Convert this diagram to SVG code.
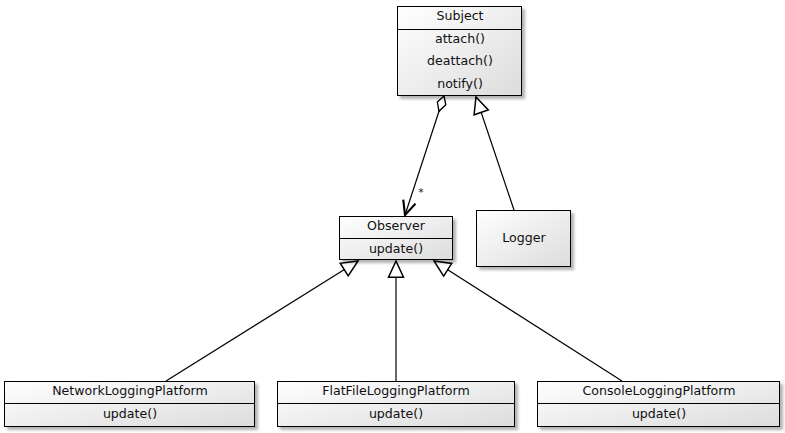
<svg xmlns="http://www.w3.org/2000/svg" width="785" height="433" viewBox="0 0 785 433">
<style>
.box{fill:url(#g);stroke:#000;stroke-width:1;filter:url(#sh)}
.div{stroke:#000;stroke-width:1}
text{font-family:"DejaVu Sans",sans-serif;font-size:12.6px;fill:#111;text-anchor:middle}
.ln{stroke:#000;stroke-width:1.2;fill:none}
</style>
<defs>
<linearGradient id="g" x1="0" y1="0" x2="1" y2="1">
<stop offset="0" stop-color="#ffffff"/>
<stop offset="1" stop-color="#dcdcdc"/>
</linearGradient>
<filter id="sh" x="-10%" y="-10%" width="130%" height="140%">
<feDropShadow dx="3" dy="3" stdDeviation="1.5" flood-color="#000" flood-opacity="0.3"/>
</filter>
<marker id="tri" markerUnits="userSpaceOnUse" markerWidth="20" markerHeight="20" refX="0" refY="0" viewBox="-1 -8 16 16" orient="auto">
<path d="M0,0 L13,-6 L13,6 Z" fill="#fff" stroke="#000" stroke-width="1.2"/>
</marker>
<marker id="dia" markerUnits="userSpaceOnUse" markerWidth="20" markerHeight="20" refX="0" refY="0" viewBox="-1 -8 18 16" orient="auto">
<path d="M0,0 L7,-4 L14.5,0 L7,4 Z" fill="#fff" stroke="#000" stroke-width="1.2"/>
</marker>
<marker id="open" markerUnits="userSpaceOnUse" markerWidth="20" markerHeight="20" refX="0" refY="0" viewBox="-15 -8 17 16" orient="auto">
<path d="M-12,-5.5 L0,0 L-12,5.5" fill="none" stroke="#000" stroke-width="1.8"/>
</marker>
</defs>

<g id="connectors">
<path class="ln" d="M444,96 L405,215" marker-start="url(#dia)" marker-end="url(#open)"/>
<text x="421" y="196" style="font-size:10px">*</text>
<path class="ln" d="M476,97 L514,210" marker-start="url(#tri)"/>
<path class="ln" d="M358,261 L166,381" marker-start="url(#tri)"/>
<path class="ln" d="M396,261 L396,381" marker-start="url(#tri)"/>
<path class="ln" d="M434,261 L622,381" marker-start="url(#tri)"/>
</g>

<g id="subject">
<rect class="box" x="397.5" y="6.5" width="124" height="89"/>
<line class="div" x1="397.5" y1="29.5" x2="521.5" y2="29.5"/>
<text x="460" y="20">Subject</text>
<text x="460" y="43">attach()</text>
<text x="460" y="65">deattach()</text>
<text x="460" y="88">notify()</text>
</g>

<g id="observer">
<rect class="box" x="339.5" y="216.5" width="113" height="43"/>
<line class="div" x1="339.5" y1="238.5" x2="452.5" y2="238.5"/>
<text x="396" y="230">Observer</text>
<text x="396" y="253">update()</text>
</g>

<g id="logger">
<rect class="box" x="476.5" y="210.5" width="94" height="56"/>
<text x="524" y="242">Logger</text>
</g>

<g id="network">
<rect class="box" x="4.5" y="381.5" width="250" height="45"/>
<line class="div" x1="4.5" y1="403.5" x2="254.5" y2="403.5"/>
<text x="130" y="395">NetworkLoggingPlatform</text>
<text x="130" y="418">update()</text>
</g>

<g id="flatfile">
<rect class="box" x="277.5" y="381.5" width="237" height="45"/>
<line class="div" x1="277.5" y1="403.5" x2="514.5" y2="403.5"/>
<text x="396" y="395">FlatFileLoggingPlatform</text>
<text x="396" y="418">update()</text>
</g>

<g id="console">
<rect class="box" x="537.5" y="381.5" width="242" height="45"/>
<line class="div" x1="537.5" y1="403.5" x2="779.5" y2="403.5"/>
<text x="659" y="395">ConsoleLoggingPlatform</text>
<text x="659" y="418">update()</text>
</g>
</svg>
